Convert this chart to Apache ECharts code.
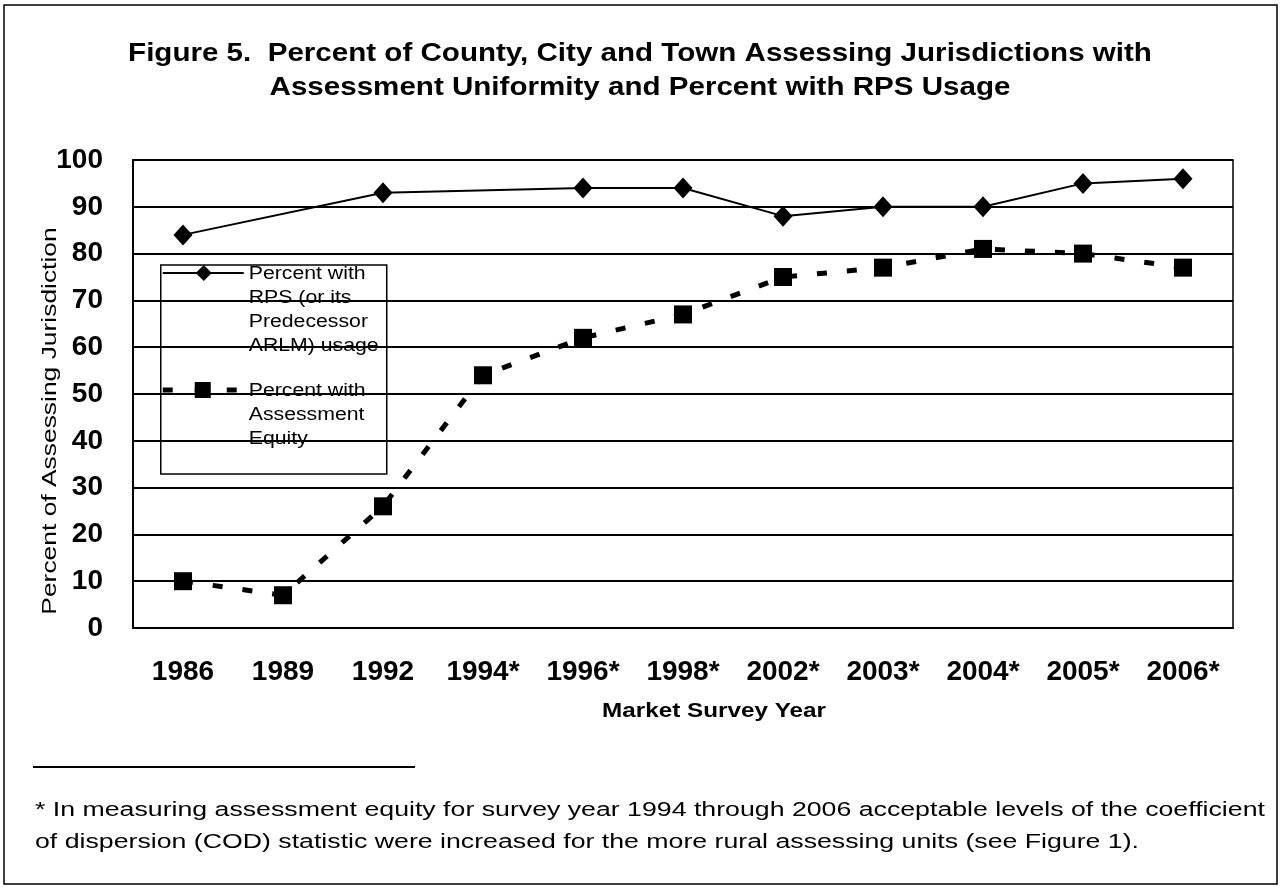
<!DOCTYPE html>
<html>
<head>
<meta charset="utf-8">
<title>Figure 5</title>
<script src="https://cdn.jsdelivr.net/npm/echarts@6/dist/echarts.min.js"></script>
<style>
    html, body { margin: 0; padding: 0; background: #fff; }
    #chart { width: 1280px; height: 887px; }
</style>
</head>
<body>
<div id="chart"></div>
<script>
// survey years (x axis)
var years = ['1986', '1989', '1992', '1994*', '1996*', '1998*', '2002*', '2003*', '2004*', '2005*', '2006*'];
// percent with RPS (or ARLM) usage - no reading for 1989 and 1994
var rpsUsage = [84, null, 93, null, 94, 94, 88, 90, 90, 95, 96];
// percent with assessment equity
var equity = [10, 7, 26, 54, 62, 67, 75, 77, 81, 80, 77];
var yTicks = [0, 100, 10];

var FONT = '"Liberation Sans", Arial, sans-serif';

var chart = echarts.init(document.getElementById('chart'));

var option = {
    backgroundColor: '#fff',
    animation: false,
    grid: {
        left: 133,
        right: 47,
        top: 160,
        bottom: 259,
        show: true,
        borderColor: '#000',
        borderWidth: 1.5
    },
    xAxis: {
        type: 'category',
        data: years,
        boundaryGap: true,
        axisLine: { lineStyle: { color: '#000', width: 2 } },
        axisTick: { show: false },
        axisLabel: {
            margin: 30,
            fontFamily: FONT,
            fontSize: 28,
            fontWeight: 'bold',
            color: '#000'
        }
    },
    yAxis: {
        type: 'value',
        min: yTicks[0],
        max: yTicks[1],
        interval: yTicks[2],
        axisLine: { show: true, lineStyle: { color: '#000', width: 2 } },
        axisTick: { show: false },
        axisLabel: {
            margin: 30,
            fontFamily: FONT,
            fontSize: 28,
            fontWeight: 'bold',
            color: '#000'
        },
        splitLine: { lineStyle: { color: '#000', width: 2 } }
    },
    series: [
        {
            name: 'Percent with RPS (or its Predecessor ARLM) usage',
            type: 'line',
            data: rpsUsage,
            connectNulls: true,
            symbol: 'diamond',
            symbolSize: [19, 21],
            lineStyle: { color: '#000', width: 2 },
            itemStyle: { color: '#000' },
            z: 3
        },
        {
            name: 'Percent with Assessment Equity',
            type: 'line',
            data: equity,
            symbol: 'rect',
            symbolSize: 18,
            lineStyle: { color: '#000', width: 5, type: [10, 20] },
            itemStyle: { color: '#000' },
            z: 4
        }
    ],
    graphic: [
        // outer frame of the figure
        {
            type: 'rect',
            shape: { x: 4, y: 5, width: 1273, height: 879 },
            style: { fill: null, stroke: '#000', lineWidth: 1.5 },
            silent: true
        },
        // title
        {
            type: 'text',
            x: 640,
            y: 37,
            scaleX: 1.137,
            style: {
                text: 'Figure 5.  Percent of County, City and Town Assessing Jurisdictions with\nAssessment Uniformity and Percent with RPS Usage',
                font: 'bold 26px ' + FONT,
                lineHeight: 34,
                align: 'center',
                verticalAlign: 'top',
                fill: '#000'
            }
        },
        // axis names
        {
            type: 'text',
            x: 50,
            y: 421,
            rotation: Math.PI / 2,
            scaleX: 1.32,
            style: {
                text: 'Percent of Assessing Jurisdiction',
                font: '20px ' + FONT,
                align: 'center',
                verticalAlign: 'middle',
                fill: '#000'
            }
        },
        {
            type: 'text',
            x: 714,
            y: 711,
            scaleX: 1.155,
            style: {
                text: 'Market Survey Year',
                font: 'bold 21px ' + FONT,
                align: 'center',
                verticalAlign: 'middle',
                fill: '#000'
            }
        },
        // legend box
        {
            type: 'group',
            left: 160,
            top: 262,
            z: 100,
            children: [
                {
                    type: 'rect',
                    shape: { x: 0, y: 0, width: 226, height: 209 },
                    style: { fill: '#fff', stroke: '#000', lineWidth: 1.5 }
                },
                {
                    type: 'line',
                    shape: { x1: 2, y1: 8, x2: 83, y2: 8 },
                    style: { stroke: '#000', lineWidth: 2 }
                },
                {
                    type: 'polygon',
                    shape: { points: [[43, 0], [51, 8], [43, 16], [35, 8]] },
                    style: { fill: '#000' }
                },
                {
                    type: 'text',
                    x: 88,
                    y: -3,
                    scaleX: 1.18,
                    style: {
                        text: 'Percent with\nRPS (or its\nPredecessor\nARLM) usage',
                        font: '18px ' + FONT,
                        lineHeight: 24,
                        fill: '#000'
                    }
                },
                {
                    type: 'line',
                    shape: { x1: 2, y1: 125, x2: 83, y2: 125 },
                    style: { stroke: '#000', lineWidth: 5, lineDash: [10, 22] }
                },
                {
                    type: 'rect',
                    shape: { x: 34, y: 117, width: 16, height: 16 },
                    style: { fill: '#000' }
                },
                {
                    type: 'text',
                    x: 88,
                    y: 114,
                    scaleX: 1.18,
                    style: {
                        text: 'Percent with\nAssessment\nEquity',
                        font: '18px ' + FONT,
                        lineHeight: 24,
                        fill: '#000'
                    }
                }
            ]
        },
        // footnote
        {
            type: 'line',
            shape: { x1: 33, y1: 767, x2: 415, y2: 767 },
            style: { stroke: '#000', lineWidth: 2 }
        },
        {
            type: 'text',
            x: 35,
            y: 794,
            scaleX: 1.335,
            style: {
                text: '* In measuring assessment equity for survey year 1994 through 2006 acceptable levels of the coefficient\nof dispersion (COD) statistic were increased for the more rural assessing units (see Figure 1).',
                font: '20px ' + FONT,
                lineHeight: 32,
                fill: '#000'
            }
        }
    ]
};

chart.setOption(option);
</script>
</body>
</html>
